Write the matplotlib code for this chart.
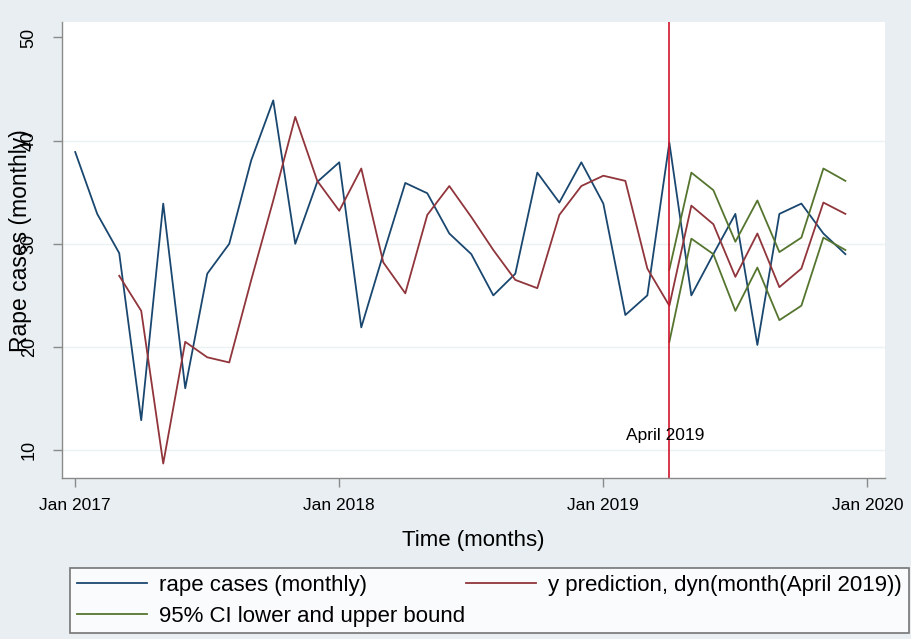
import numpy as np
import matplotlib
matplotlib.use("Agg")
import matplotlib.pyplot as plt

plt.rcParams['font.family'] = ['Liberation Sans', 'DejaVu Sans']

# months since Jan 2017 (0 = Jan 2017 ... 35 = Dec 2019)
months = np.arange(36)
rape_cases = [38.9, 32.9, 29.1, 12.9, 33.9, 16.0, 27.1, 30.0, 38.1, 43.9, 30.0, 36.0,
              37.9, 21.9, 29.0, 35.9, 34.9, 31.0, 29.0, 25.0, 27.1, 36.9, 34.0, 37.9,
              33.9, 23.1, 25.0, 39.8, 25.0, 29.0, 32.9, 20.2, 32.9, 33.9, 31.0, 29.0]
# dynamic prediction starts Mar 2017
pred_months = np.arange(2, 36)
y_pred = [26.9, 23.5, 8.7, 20.5, 19.0, 18.5, 26.5, 34.2, 42.3, 36.1,
          33.2, 37.3, 28.2, 25.2, 32.8, 35.6, 32.6, 29.4, 26.5, 25.7, 32.8, 35.6,
          36.6, 36.1, 27.6, 24.0, 33.7, 31.9, 26.8, 31.0, 25.8, 27.6, 34.0, 32.9]
# 95% CI from April 2019
ci_months = np.arange(27, 36)
ci_upper = [27.5, 36.9, 35.2, 30.2, 34.2, 29.2, 30.6, 37.3, 36.1]
ci_lower = [20.5, 30.5, 29.0, 23.5, 27.7, 22.6, 24.0, 30.6, 29.4]

xticks = [0, 12, 24, 36]
xticklabels = ['Jan 2017', 'Jan 2018', 'Jan 2019', 'Jan 2020']
yticks = [10, 20, 30, 40, 50]
break_month = 27  # April 2019

bg = '#e8eef1'
navy = '#1a476f'
maroon = '#90353b'
olive = '#55752f'

fig = plt.figure(figsize=(9.11, 6.39), dpi=100, facecolor=bg)
ax = fig.add_axes([62/911, 1 - 478/639, 823/911, 456/639])
ax.set_facecolor('white')

ax.plot(months, rape_cases, color=navy, lw=1.3, label='rape cases (monthly)')
ax.plot(ci_months, ci_upper, color=olive, lw=1.3, label='95% CI lower and upper bound')
ax.plot(ci_months, ci_lower, color=olive, lw=1.3)
ax.plot(pred_months, y_pred, color=maroon, lw=1.3, label='y prediction, dyn(month(April 2019))')
ax.axvline(break_month, color='#d0142c', lw=1.2)
ax.text(break_month - 0.2, 11.4, 'April 2019', ha='center', va='center', fontsize=12.5)

ax.set_xlim(-0.6, 36.8)
ax.set_ylim(7.3, 51.5)
ax.set_xticks(xticks)
ax.set_xticklabels(xticklabels)
ax.set_yticks(yticks)
for y in yticks[:-1]:
    ax.axhline(y, color='#eaf2f3', lw=1.0, zorder=0)

for s in ['top', 'right']:
    ax.spines[s].set_visible(False)
for s in ['left', 'bottom']:
    ax.spines[s].set_color('#8a8a8a')
    ax.spines[s].set_linewidth(1.0)

ax.tick_params(axis='both', colors='#8a8a8a', length=6.5, width=1.0, labelcolor='black')
ax.tick_params(axis='y', labelrotation=90, pad=11, labelsize=13)
ax.tick_params(axis='x', pad=8, labelsize=12.5)
for lab in ax.get_yticklabels():
    lab.set_va('center')

ax.set_xlabel('Time (months)', fontsize=16, labelpad=12)
ax.set_ylabel('Rape cases (monthly)', fontsize=16.5)
ax.yaxis.set_label_coords(-0.051, 0.52)
ax.yaxis.label.set_va('center')

handles, labels = ax.get_legend_handles_labels()
leg = fig.legend(handles, labels, ncol=2, loc='upper left',
                 bbox_to_anchor=(70/911, 1 - 568/639),
                 fontsize=16, handlelength=3.15, handletextpad=0.55, frameon=True,
                 fancybox=False, borderaxespad=0, borderpad=0.3,
                 labelspacing=0.45, columnspacing=0.05)
leg.get_frame().set_edgecolor('#555555')
leg.get_frame().set_linewidth(1.2)

fig.savefig('out.png', dpi=100, facecolor=bg)
